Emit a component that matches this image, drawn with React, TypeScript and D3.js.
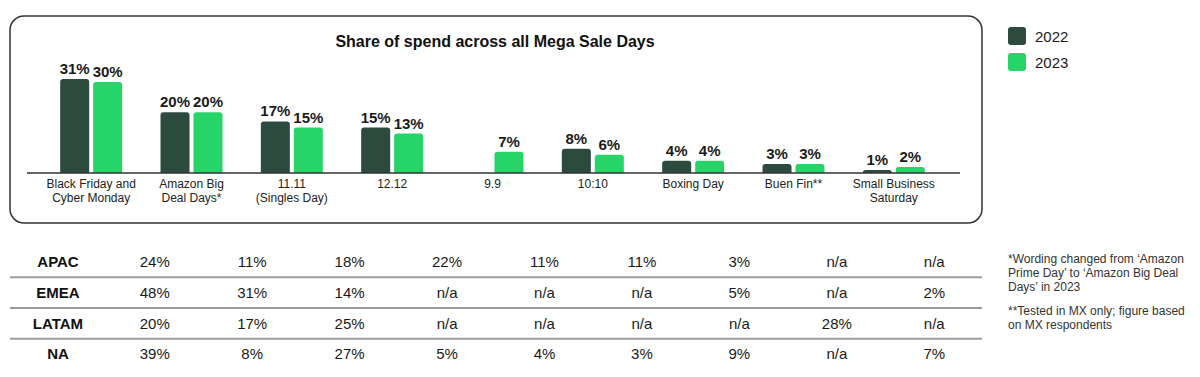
import React from "react";
import * as d3 from "d3";

const categories = [
  ["Black Friday and", "Cyber Monday"],
  ["Amazon Big", "Deal Days*"],
  ["11.11", "(Singles Day)"],
  ["12.12"],
  ["9.9"],
  ["10:10"],
  ["Boxing Day"],
  ["Buen Fin**"],
  ["Small Business", "Saturday"],
];
const years = ["2022", "2023"];
const values2022: (number | null)[] = [31, 20, 17, 15, null, 8, 4, 3, 1];
const values2023: (number | null)[] = [30, 20, 15, 13, 7, 6, 4, 3, 2];

const regions = ["APAC", "EMEA", "LATAM", "NA"];
const apac = ["24%", "11%", "18%", "22%", "11%", "11%", "3%", "n/a", "n/a"];
const emea = ["48%", "31%", "14%", "n/a", "n/a", "n/a", "5%", "n/a", "2%"];
const latam = ["20%", "17%", "25%", "n/a", "n/a", "n/a", "n/a", "28%", "n/a"];
const na = ["39%", "8%", "27%", "5%", "4%", "3%", "9%", "n/a", "7%"];
const tableRows = [apac, emea, latam, na];

const title = "Share of spend across all Mega Sale Days";
const footnote1 = ["*Wording changed from \u2018Amazon", "Prime Day\u2019 to \u2018Amazon Big Deal", "Days\u2019 in 2023"];
const footnote2 = ["**Tested in MX only; figure based", "on MX respondents"];

const COLORS: Record<string, string> = { "2022": "#2d4a3f", "2023": "#27d467" };
const FONT = "'Liberation Sans', Arial, Helvetica, sans-serif";

function topRoundedRect(x: number, y: number, w: number, h: number, r: number) {
  const rr = Math.min(r, h, w / 2);
  return `M${x},${y + h}V${y + rr}Q${x},${y} ${x + rr},${y}H${x + w - rr}Q${x + w},${y} ${x + w},${y + rr}V${y + h}Z`;
}

export default function App() {
  const W = 1200, H = 377;
  const keys = categories.map((c) => c.join(" "));
  const x0 = d3.scaleBand<string>().domain(keys).range([41, 944]).padding(0);
  const bw = x0.bandwidth();
  const x1 = d3.scaleBand<string>().domain(years).range([bw / 2 - 31, bw / 2 + 31]).paddingInner(0.12);
  const y = d3.scaleLinear().domain([0, 31]).range([173, 79]);
  const series: Record<string, (number | null)[]> = { "2022": values2022, "2023": values2023 };

  const tx = d3.scaleBand<string>().domain(keys).range([106, 983]);
  const ty = d3.scaleBand<string>().domain(regions).range([246.5, 369.5]);

  return (
    <svg width={W} height={H} style={{ display: "block", position: "absolute", left: 0, top: 0, background: "#fff" }} fontFamily={FONT}>
      <rect x={10} y={16} width={972} height={207} rx={14} ry={14} fill="none" stroke="#333" strokeWidth={1.5} />
      <text x={495} y={47} textAnchor="middle" fontSize={16} fontWeight="bold" fill="#111">{title}</text>

      {keys.map((k, i) => (
        <g key={k} transform={`translate(${x0(k)},0)`}>
          {years.map((yr) => {
            const v = series[yr][i];
            if (v == null) return null;
            const bx = x1(yr)!;
            const w = x1.bandwidth();
            const top = y(v);
            return (
              <g key={yr}>
                <path d={topRoundedRect(bx, top, w, y(0) - top, 3)} fill={COLORS[yr]} />
                <text x={bx + w / 2} y={top - 5} textAnchor="middle" fontSize={15} fontWeight="bold" fill="#1a1a1a">{v}%</text>
              </g>
            );
          })}
          {categories[i].map((line, j) => (
            <text key={j} x={bw / 2} y={188 + j * 14} textAnchor="middle" fontSize={12} fill="#222">{line}</text>
          ))}
        </g>
      ))}
      <line x1={27} x2={960} y1={173} y2={173} stroke="#333" strokeWidth={1.5} />

      {years.map((yr, i) => (
        <g key={yr}>
          <rect x={1008} y={27 + i * 26} width={18} height={18} rx={3} fill={COLORS[yr]} />
          <text x={1035} y={42 + i * 26} fontSize={15} fill="#1a1a1a">{yr}</text>
        </g>
      ))}

      {regions.map((r, ri) => {
        const cy = ty(r)! + ty.bandwidth() / 2;
        return (
          <g key={r}>
            <text x={58} y={cy} dy="0.35em" textAnchor="middle" fontSize={15} fontWeight="bold" fill="#111">{r}</text>
            {tableRows[ri].map((v, ci) => (
              <text key={ci} x={tx(keys[ci])! + tx.bandwidth() / 2} y={cy} dy="0.35em" textAnchor="middle" fontSize={15} fill="#1a1a1a">{v}</text>
            ))}
            {ri < regions.length - 1 && (
              <line x1={10} x2={982} y1={ty(r)! + ty.bandwidth()} y2={ty(r)! + ty.bandwidth()} stroke="#9c9c9c" strokeWidth={2} />
            )}
          </g>
        );
      })}

      {footnote1.map((l, i) => (
        <text key={"f1" + i} x={1008} y={263 + i * 14} fontSize={12} fill="#333">{l}</text>
      ))}
      {footnote2.map((l, i) => (
        <text key={"f2" + i} x={1008} y={315 + i * 14} fontSize={12} fill="#333">{l}</text>
      ))}
    </svg>
  );
}
